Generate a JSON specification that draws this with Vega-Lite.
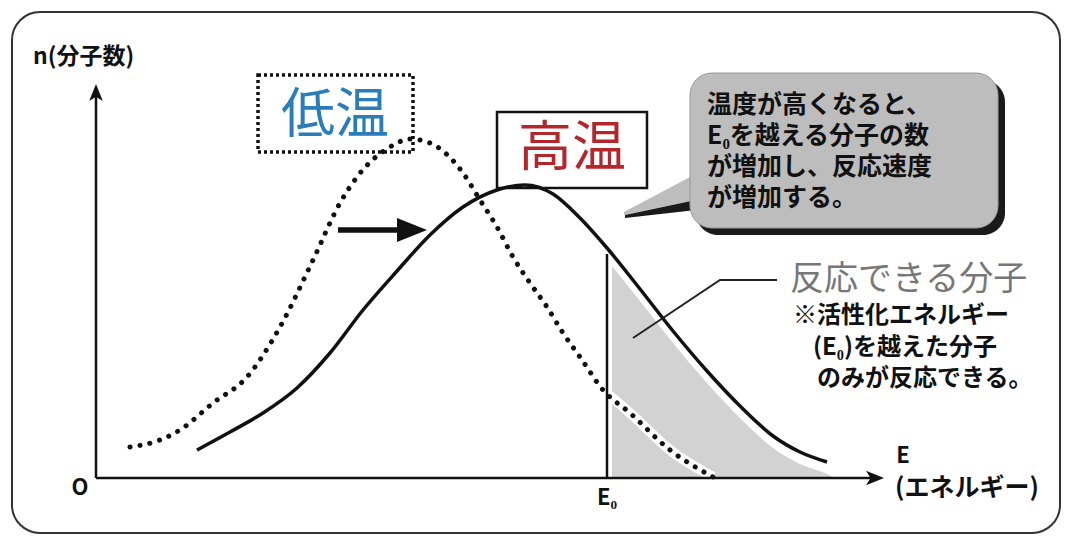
{
  "$schema": "https://vega.github.io/schema/vega-lite/v6.json",
  "width": 1067,
  "height": 538,
  "autosize": "none",
  "padding": 0,
  "background": "white",
  "config": {"view": {"stroke": null}, "text": {"font": "Noto Sans CJK JP"}},
  "encoding": {
    "x": {"field": "E", "type": "quantitative", "scale": {"domain": [-12, 121.375], "nice": false, "zero": false}, "axis": null},
    "y": {"field": "n", "type": "quantitative", "scale": {"domain": [-15, 119.5], "nice": false, "zero": false}, "axis": null}
  },
  "datasets": {
    "frame": [{"E": -10.5, "E2": 120.5, "n": 116.5, "n2": -13.75}],
    "boxLow": [{"E": 20.25, "E2": 39.625, "n": 100.75, "n2": 81.5}],
    "boxHigh": [{"E": 50.125, "E2": 68.875, "n": 91.5, "n2": 72.5}],
    "low": [
      {"E": 4.25, "n": 7.75}, {"E": 8, "n": 9.5}, {"E": 10.5, "n": 12}, {"E": 14.625, "n": 18.75},
      {"E": 18.875, "n": 25.25}, {"E": 23, "n": 37.75}, {"E": 27.125, "n": 54.5}, {"E": 30.5, "n": 68.75},
      {"E": 32.625, "n": 75.25}, {"E": 36.75, "n": 82.75}, {"E": 39.25, "n": 84.75}, {"E": 41.75, "n": 83.75},
      {"E": 45.875, "n": 76.25}, {"E": 48, "n": 69.5}, {"E": 50.125, "n": 62.75}, {"E": 52.125, "n": 55.25},
      {"E": 54.25, "n": 48.75}, {"E": 56.375, "n": 42.75}, {"E": 58.375, "n": 36.25}, {"E": 60.5, "n": 30.25},
      {"E": 63.375, "n": 22}, {"E": 66.75, "n": 16.25}, {"E": 71.75, "n": 7}, {"E": 77.125, "n": 0.25}
    ],
    "lowHalo": [
      {"E": 63.375, "n": 22}, {"E": 66.75, "n": 16.25}, {"E": 71.75, "n": 7}, {"E": 77.125, "n": 0.25}
    ],
    "high": [
      {"E": 12.625, "n": 7}, {"E": 16.75, "n": 11.5}, {"E": 20.875, "n": 16.25}, {"E": 25.125, "n": 22.5},
      {"E": 29.25, "n": 31.25}, {"E": 33.375, "n": 42}, {"E": 37.625, "n": 51.75}, {"E": 41.75, "n": 60.75},
      {"E": 45.875, "n": 67.75}, {"E": 50.125, "n": 72}, {"E": 53.625, "n": 73.25}, {"E": 57.125, "n": 71},
      {"E": 60.5, "n": 65}, {"E": 63.875, "n": 57.5}, {"E": 68, "n": 47.25}, {"E": 72.125, "n": 36.75},
      {"E": 76.375, "n": 26.75}, {"E": 80.5, "n": 18}, {"E": 84.625, "n": 10.5}, {"E": 88, "n": 6.5},
      {"E": 91.375, "n": 4}
    ],
    "shade": [
      {"E": 64.5, "n": 53}, {"E": 68, "n": 44.25}, {"E": 72.125, "n": 33.75}, {"E": 76.375, "n": 23.75},
      {"E": 80.5, "n": 15}, {"E": 84.625, "n": 7.5}, {"E": 88, "n": 3.5}, {"E": 91.375, "n": 1}, {"E": 92.375, "n": 0}
    ],
    "e0line": [{"E": 63.875, "n": 0, "n2": 56}],
    "xaxis": [{"E": 0, "E2": 97, "n": 0}],
    "yaxis": [{"E": 0, "n": 0, "n2": 96}],
    "xhead": [{"E": 97.375, "n": 0}],
    "yhead": [{"E": 0, "n": 96.4}],
    "shaft": [{"E": 30.25, "E2": 38.75, "n": 62}],
    "ahead": [{"E": 39.5, "n": 62}],
    "tailDark": [{"E": 66.125, "n": 65.75, "n2": 65}, {"E": 75, "n": 69.5, "n2": 67}],
    "tailGray": [{"E": 66, "n": 66.5, "n2": 65.75}, {"E": 74.5, "n": 75.5, "n2": 69.25}],
    "bubbleShadow": [{"E": 75, "E2": 113.625, "n": 99.5, "n2": 60.75}],
    "bubble": [{"E": 74.25, "E2": 112.75, "n": 101.25, "n2": 62.5}],
    "bubbleText": [
      {"E": 76.375, "n": 93.25, "t": "温度が高くなると、"},
      {"E": 76.375, "n": 85.5, "t": "E₀を越える分子の数"},
      {"E": 76.375, "n": 77.75, "t": "が増加し、反応速度"},
      {"E": 76.375, "n": 70, "t": "が増加する。"}
    ],
    "leader": [{"E": 85.125, "n": 49.5}, {"E": 78, "n": 49.5}, {"E": 67.125, "n": 35}],
    "reactLabel": [{"E": 86.75, "n": 49.5, "t": "反応できる分子"}],
    "note": [
      {"E": 87.125, "n": 40.5, "t": "※活性化エネルギー"},
      {"E": 89.625, "n": 32.5, "t": "(E₀)を越えた分子"},
      {"E": 90.125, "n": 24.75, "t": "のみが反応できる。"}
    ],
    "lowLabel": [{"E": 29.875, "n": 90.25, "t": "低温"}],
    "highLabel": [{"E": 59.5, "n": 82, "t": "高温"}],
    "nLabel": [{"E": -7.875, "n": 105.25, "t": "n(分子数)"}],
    "eLabel": [{"E": 99.875, "n": -2.5, "t": "(エネルギー)"}],
    "centerLabels": [
      {"E": -2, "n": -2.5, "t": "O"},
      {"E": 63.875, "n": -5, "t": "E₀"},
      {"E": 100.875, "n": 5.5, "t": "E"}
    ]
  },
  "layer": [
    {"data": {"name": "frame"}, "mark": {"type": "rect", "fill": "transparent", "stroke": "#333333", "strokeWidth": 2, "cornerRadius": 28},
     "encoding": {"x2": {"field": "E2"}, "y2": {"field": "n2"}}},
    {"data": {"name": "boxLow"}, "mark": {"type": "rect", "fill": "white", "stroke": "#111111", "strokeWidth": 3.5, "strokeDash": [3, 3]},
     "encoding": {"x2": {"field": "E2"}, "y2": {"field": "n2"}}},
    {"data": {"name": "boxHigh"}, "mark": {"type": "rect", "fill": "white", "stroke": "#111111", "strokeWidth": 2.5},
     "encoding": {"x2": {"field": "E2"}, "y2": {"field": "n2"}}},
    {"data": {"name": "shade"}, "mark": {"type": "area", "interpolate": "monotone", "fill": "#d2d2d2"},
     "encoding": {"y2": {"datum": 0}}},
    {"data": {"name": "lowHalo"}, "mark": {"type": "line", "interpolate": "monotone", "color": "white", "strokeWidth": 10},
     "encoding": {}},
    {"data": {"name": "low"}, "mark": {"type": "line", "interpolate": "monotone", "color": "#111111", "strokeWidth": 5, "strokeDash": [0.1, 10], "strokeCap": "round"},
     "encoding": {}},
    {"data": {"name": "high"}, "mark": {"type": "line", "interpolate": "monotone", "color": "#111111", "strokeWidth": 3.5},
     "encoding": {}},
    {"data": {"name": "e0line"}, "mark": {"type": "rule", "color": "#111111", "strokeWidth": 2.5},
     "encoding": {"y2": {"field": "n2"}}},
    {"data": {"name": "xaxis"}, "mark": {"type": "rule", "color": "#111111", "strokeWidth": 2.5},
     "encoding": {"x2": {"field": "E2"}}},
    {"data": {"name": "yaxis"}, "mark": {"type": "rule", "color": "#111111", "strokeWidth": 2.5},
     "encoding": {"y2": {"field": "n2"}}},
    {"data": {"name": "xhead"}, "mark": {"type": "point", "shape": "M-1,-0.8L1,0L-1,0.8L-0.5,0Z", "size": 324, "filled": true, "color": "#111111", "opacity": 1},
     "encoding": {}},
    {"data": {"name": "yhead"}, "mark": {"type": "point", "shape": "M-0.8,1L0,-1L0.8,1L0,0.5Z", "size": 289, "filled": true, "color": "#111111", "opacity": 1},
     "encoding": {}},
    {"data": {"name": "shaft"}, "mark": {"type": "rule", "color": "#111111", "strokeWidth": 5.5},
     "encoding": {"x2": {"field": "E2"}}},
    {"data": {"name": "ahead"}, "mark": {"type": "point", "shape": "M-1,-0.8L1,0L-1,0.8Z", "size": 900, "filled": true, "color": "#111111", "opacity": 1},
     "encoding": {}},
    {"data": {"name": "bubbleShadow"}, "mark": {"type": "rect", "fill": "#1a1a1a", "cornerRadius": 22},
     "encoding": {"x2": {"field": "E2"}, "y2": {"field": "n2"}}},
    {"data": {"name": "tailGray"}, "mark": {"type": "area", "fill": "#bdbdbd"},
     "encoding": {"y2": {"field": "n2"}}},
    {"data": {"name": "tailDark"}, "mark": {"type": "area", "fill": "#1a1a1a"},
     "encoding": {"y2": {"field": "n2"}}},
    {"data": {"name": "bubble"}, "mark": {"type": "rect", "fill": "#bdbdbd", "stroke": "#999999", "strokeWidth": 1, "cornerRadius": 22},
     "encoding": {"x2": {"field": "E2"}, "y2": {"field": "n2"}}},
    {"data": {"name": "bubbleText"}, "mark": {"type": "text", "align": "left", "baseline": "middle", "fontSize": 25, "fontWeight": "bold", "color": "#111111"},
     "encoding": {"text": {"field": "t"}}},
    {"data": {"name": "leader"}, "mark": {"type": "line", "color": "#222222", "strokeWidth": 2},
     "encoding": {"order": {"field": "E", "sort": "descending"}}},
    {"data": {"name": "reactLabel"}, "mark": {"type": "text", "align": "left", "baseline": "middle", "fontSize": 34, "fontWeight": "normal", "color": "#777777"},
     "encoding": {"text": {"field": "t"}}},
    {"data": {"name": "note"}, "mark": {"type": "text", "align": "left", "baseline": "middle", "fontSize": 24, "fontWeight": "bold", "color": "#111111"},
     "encoding": {"text": {"field": "t"}}},
    {"data": {"name": "lowLabel"}, "mark": {"type": "text", "align": "center", "baseline": "middle", "fontSize": 54, "fontWeight": "normal", "color": "#2a7db8"},
     "encoding": {"text": {"field": "t"}}},
    {"data": {"name": "highLabel"}, "mark": {"type": "text", "align": "center", "baseline": "middle", "fontSize": 54, "fontWeight": "normal", "color": "#b3262b"},
     "encoding": {"text": {"field": "t"}}},
    {"data": {"name": "nLabel"}, "mark": {"type": "text", "align": "left", "baseline": "middle", "fontSize": 23, "fontWeight": "bold", "color": "#111111"},
     "encoding": {"text": {"field": "t"}}},
    {"data": {"name": "eLabel"}, "mark": {"type": "text", "align": "left", "baseline": "middle", "fontSize": 25, "fontWeight": "bold", "color": "#111111"},
     "encoding": {"text": {"field": "t"}}},
    {"data": {"name": "centerLabels"}, "mark": {"type": "text", "align": "center", "baseline": "middle", "fontSize": 22, "fontWeight": "bold", "color": "#111111"},
     "encoding": {"text": {"field": "t"}}}
  ]
}
